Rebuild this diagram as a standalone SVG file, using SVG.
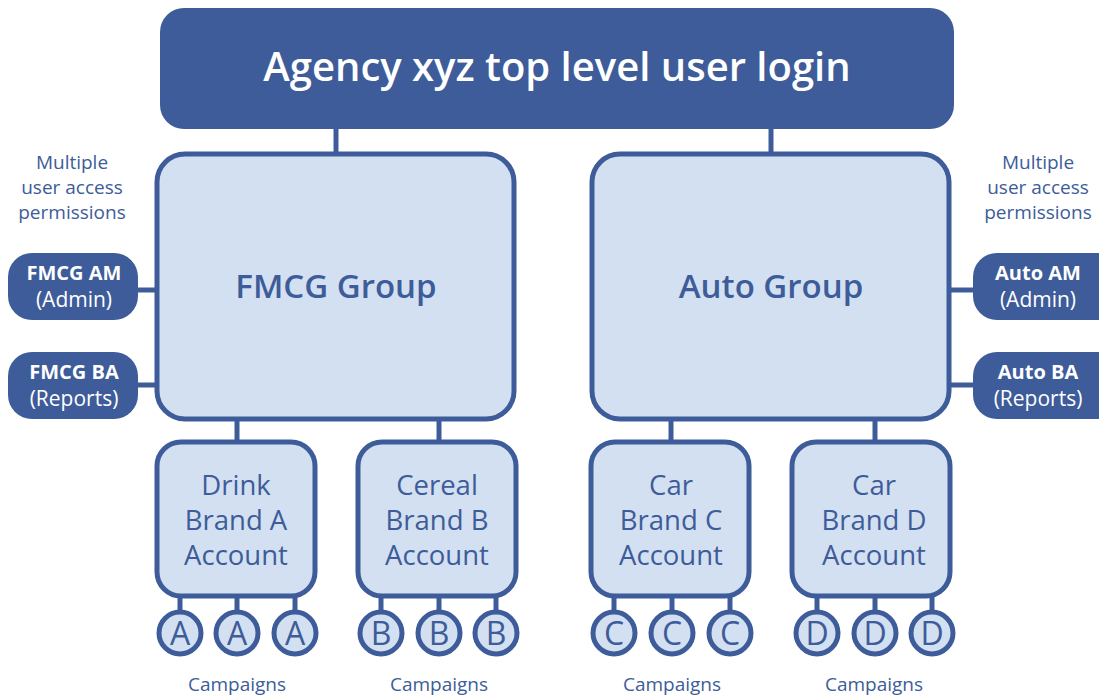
<svg xmlns="http://www.w3.org/2000/svg" width="1099" height="698" viewBox="0 0 1099 698">
  <style>
    text { font-family: "Open Sans", "Noto Sans", "Liberation Sans", sans-serif; fill: #3d5c99; text-anchor: middle; }
    .dark { fill: #3d5c99; }
    .box { fill: #d3e0f1; stroke: #3d5c99; stroke-width: 5; }
    .link { stroke: #3d5c99; stroke-width: 5; fill: none; }
    .title { font-size: 40px; font-weight: 600; }
    .group { font-size: 33px; font-weight: 600; }
    .acct { font-size: 27.5px; }
    .role { font-size: 20px; font-weight: 700; fill: #ffffff; }
    .right { font-size: 21px; fill: #ffffff; }
    .note { font-size: 19px; }
    .circ { font-size: 32px; }
  </style>

  <!-- connectors -->
  <g id="connectors">
    <line class="link" x1="336" y1="128" x2="336" y2="154"/>
    <line class="link" x1="771" y1="128" x2="771" y2="154"/>
    <line class="link" x1="136" y1="290" x2="157" y2="290"/>
    <line class="link" x1="136" y1="385" x2="157" y2="385"/>
    <line class="link" x1="949" y1="290" x2="975" y2="290"/>
    <line class="link" x1="949" y1="385" x2="975" y2="385"/>
    <line class="link" x1="237" y1="419" x2="237" y2="442"/>
    <line class="link" x1="439" y1="419" x2="439" y2="442"/>
    <line class="link" x1="671" y1="419" x2="671" y2="442"/>
    <line class="link" x1="875" y1="419" x2="875" y2="442"/>
    <g>
      <line class="link" x1="180" y1="596" x2="180" y2="612"/>
      <line class="link" x1="237" y1="596" x2="237" y2="612"/>
      <line class="link" x1="295" y1="596" x2="295" y2="612"/>
      <line class="link" x1="381" y1="596" x2="381" y2="612"/>
      <line class="link" x1="439" y1="596" x2="439" y2="612"/>
      <line class="link" x1="496" y1="596" x2="496" y2="612"/>
      <line class="link" x1="614" y1="596" x2="614" y2="612"/>
      <line class="link" x1="672" y1="596" x2="672" y2="612"/>
      <line class="link" x1="730" y1="596" x2="730" y2="612"/>
      <line class="link" x1="817" y1="596" x2="817" y2="612"/>
      <line class="link" x1="875" y1="596" x2="875" y2="612"/>
      <line class="link" x1="932" y1="596" x2="932" y2="612"/>
    </g>
  </g>

  <!-- top level -->
  <g id="top">
    <rect class="dark" x="160" y="8" width="794" height="121" rx="24"/>
    <text class="title" x="557" y="81" style="fill:#ffffff">Agency xyz top level user login</text>
  </g>

  <!-- groups -->
  <g id="fmcg-group">
    <rect class="box" x="157" y="154" width="357" height="265" rx="28"/>
    <text class="group" x="336" y="298">FMCG Group</text>
  </g>
  <g id="auto-group">
    <rect class="box" x="592" y="154" width="357" height="265" rx="28"/>
    <text class="group" x="771" y="298">Auto Group</text>
  </g>

  <!-- permission notes -->
  <g id="note-left">
    <text class="note" x="72" y="169">Multiple</text>
    <text class="note" x="72" y="194">user access</text>
    <text class="note" x="72" y="219">permissions</text>
  </g>
  <g id="note-right">
    <text class="note" x="1038" y="169">Multiple</text>
    <text class="note" x="1038" y="194">user access</text>
    <text class="note" x="1038" y="219">permissions</text>
  </g>

  <!-- user roles -->
  <g id="fmcg-am">
    <rect class="dark" x="8" y="253" width="130" height="67" rx="24"/>
    <text class="role" x="74" y="280">FMCG AM</text>
    <text class="right" x="74" y="307">(Admin)</text>
  </g>
  <g id="fmcg-ba">
    <rect class="dark" x="8" y="352" width="130" height="67" rx="24"/>
    <text class="role" x="74" y="379">FMCG BA</text>
    <text class="right" x="74" y="406">(Reports)</text>
  </g>
  <g id="auto-am">
    <rect class="dark" x="973" y="253" width="150" height="67" rx="24"/>
    <text class="role" x="1038" y="280">Auto AM</text>
    <text class="right" x="1038" y="307">(Admin)</text>
  </g>
  <g id="auto-ba">
    <rect class="dark" x="973" y="352" width="150" height="67" rx="24"/>
    <text class="role" x="1038" y="379">Auto BA</text>
    <text class="right" x="1038" y="406">(Reports)</text>
  </g>

  <!-- accounts -->
  <g id="drink-a">
    <rect class="box" x="157" y="442" width="158" height="154" rx="24"/>
    <text class="acct" x="236" y="495">Drink</text>
    <text class="acct" x="236" y="530">Brand A</text>
    <text class="acct" x="236" y="565">Account</text>
  </g>
  <g id="cereal-b">
    <rect class="box" x="358" y="442" width="158" height="154" rx="24"/>
    <text class="acct" x="437" y="495">Cereal</text>
    <text class="acct" x="437" y="530">Brand B</text>
    <text class="acct" x="437" y="565">Account</text>
  </g>
  <g id="car-c">
    <rect class="box" x="591" y="442" width="158" height="154" rx="24"/>
    <text class="acct" x="671" y="495">Car</text>
    <text class="acct" x="671" y="530">Brand C</text>
    <text class="acct" x="671" y="565">Account</text>
  </g>
  <g id="car-d">
    <rect class="box" x="792" y="442" width="158" height="154" rx="24"/>
    <text class="acct" x="874" y="495">Car</text>
    <text class="acct" x="874" y="530">Brand D</text>
    <text class="acct" x="874" y="565">Account</text>
  </g>

  <!-- campaigns -->
  <g id="campaigns-a">
    <circle class="box" cx="180" cy="633" r="21"/><text class="circ" x="180" y="645">A</text>
    <circle class="box" cx="237" cy="633" r="21"/><text class="circ" x="237" y="645">A</text>
    <circle class="box" cx="295" cy="633" r="21"/><text class="circ" x="295" y="645">A</text>
    <text class="note" x="237" y="691">Campaigns</text>
  </g>
  <g id="campaigns-b">
    <circle class="box" cx="381" cy="633" r="21"/><text class="circ" x="381" y="645">B</text>
    <circle class="box" cx="439" cy="633" r="21"/><text class="circ" x="439" y="645">B</text>
    <circle class="box" cx="496" cy="633" r="21"/><text class="circ" x="496" y="645">B</text>
    <text class="note" x="439" y="691">Campaigns</text>
  </g>
  <g id="campaigns-c">
    <circle class="box" cx="614" cy="633" r="21"/><text class="circ" x="614" y="645">C</text>
    <circle class="box" cx="672" cy="633" r="21"/><text class="circ" x="672" y="645">C</text>
    <circle class="box" cx="730" cy="633" r="21"/><text class="circ" x="730" y="645">C</text>
    <text class="note" x="672" y="691">Campaigns</text>
  </g>
  <g id="campaigns-d">
    <circle class="box" cx="817" cy="633" r="21"/><text class="circ" x="817" y="645">D</text>
    <circle class="box" cx="875" cy="633" r="21"/><text class="circ" x="875" y="645">D</text>
    <circle class="box" cx="932" cy="633" r="21"/><text class="circ" x="932" y="645">D</text>
    <text class="note" x="874" y="691">Campaigns</text>
  </g>
</svg>
